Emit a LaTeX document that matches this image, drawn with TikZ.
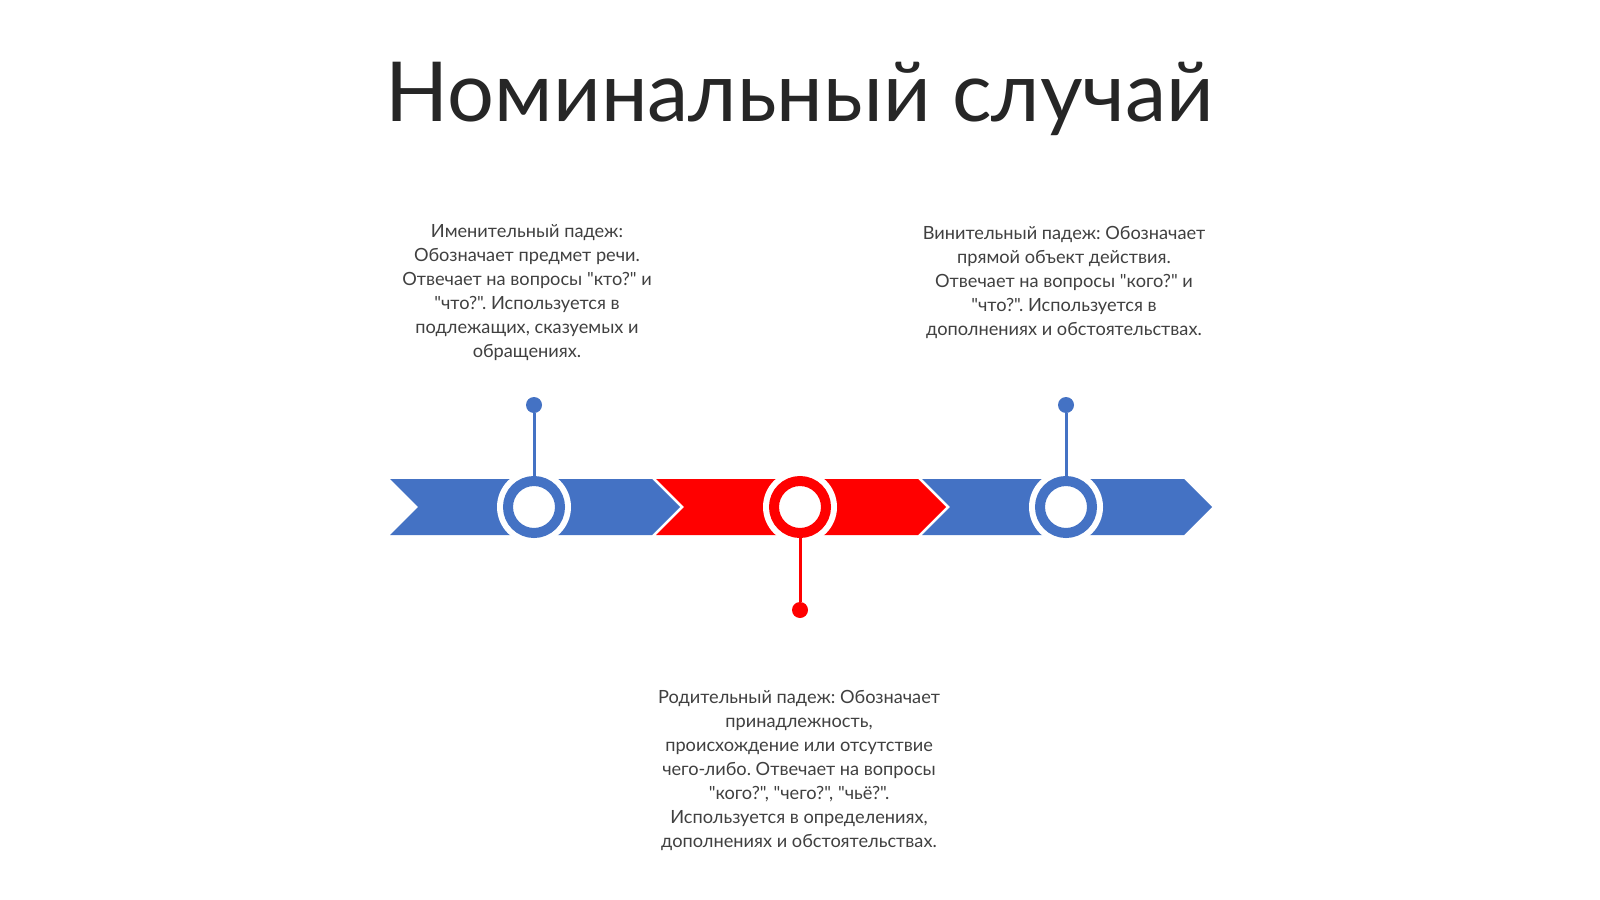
\documentclass[tikz,border=0pt]{standalone}
\usepackage{fontspec}
\setmainfont{Lato}[Ligatures=TeXOff]
\definecolor{cblue}{HTML}{4472C4}
\definecolor{cred}{HTML}{FF0000}
\definecolor{txtgray}{HTML}{404040}
\definecolor{titlegray}{HTML}{262626}
\newcommand\chevpiece[2]{\fill[#2] (#1,479) -- ++(262,0) -- ++(28,28) -- ++(-28,28) -- ++(-262,0) -- ++(28,-28) -- cycle;}
\frenchspacing
\begin{document}
\begin{tikzpicture}[x=0.5pt,y=-0.5pt,
  gapdisc/.style={circle,fill=white,minimum size=37pt,inner sep=0pt,outer sep=0pt},
  ringnode/.style={circle,draw=#1,line width=5pt,fill=white,minimum size=26pt,inner sep=0pt,outer sep=0pt},
  dotnode/.style={circle,fill=#1,minimum size=8pt,inner sep=0pt,outer sep=0pt},
  stem/.style={draw=#1,line width=1.5pt},
  desc/.style={align=center,font=\fontsize{9.1pt}{12pt}\selectfont\frenchspacing,text=txtgray,inner sep=0pt}]
\useasboundingbox[fill=white] (0,0) rectangle (1600,899);

\node[anchor=base,font=\fontsize{41.4pt}{48pt}\selectfont,text=titlegray,inner sep=0pt] (title) at (800,122) {Номинальный случай};

\chevpiece{390}{cblue}
\chevpiece{656}{cred}
\chevpiece{922}{cblue}

\node[gapdisc] (g1) at (534,507) {};
\node[gapdisc] (g2) at (800,507) {};
\node[gapdisc] (g3) at (1066,507) {};
\node[ringnode=cblue] (c1) at (534,507) {};
\node[ringnode=cred] (c2) at (800,507) {};
\node[ringnode=cblue] (c3) at (1066,507) {};

\node[dotnode=cblue] (d1) at (534,405) {};
\node[dotnode=cred] (d2) at (800,610) {};
\node[dotnode=cblue] (d3) at (1066,405) {};
\draw[stem=cblue] (d1) -- (c1);
\draw[stem=cred] (d2) -- (c2);
\draw[stem=cblue] (d3) -- (c3);

\node[desc,anchor=north] (t1) at (527,224) {Именительный падеж:\\Обозначает предмет речи.\\Отвечает на вопросы "кто?" и\\"что?". Используется в\\подлежащих, сказуемых и\\обращениях.};
\node[desc,anchor=north] (t2) at (1064,226) {Винительный падеж: Обозначает\\прямой объект действия.\\Отвечает на вопросы "кого?" и\\"что?". Используется в\\дополнениях и обстоятельствах.};
\node[desc,anchor=north] (t3) at (799,690) {Родительный падеж: Обозначает\\принадлежность,\\происхождение или отсутствие\\чего-либо. Отвечает на вопросы\\"кого?", "чего?", "чьё?".\\Используется в определениях,\\дополнениях и обстоятельствах.};
\end{tikzpicture}
\end{document}
